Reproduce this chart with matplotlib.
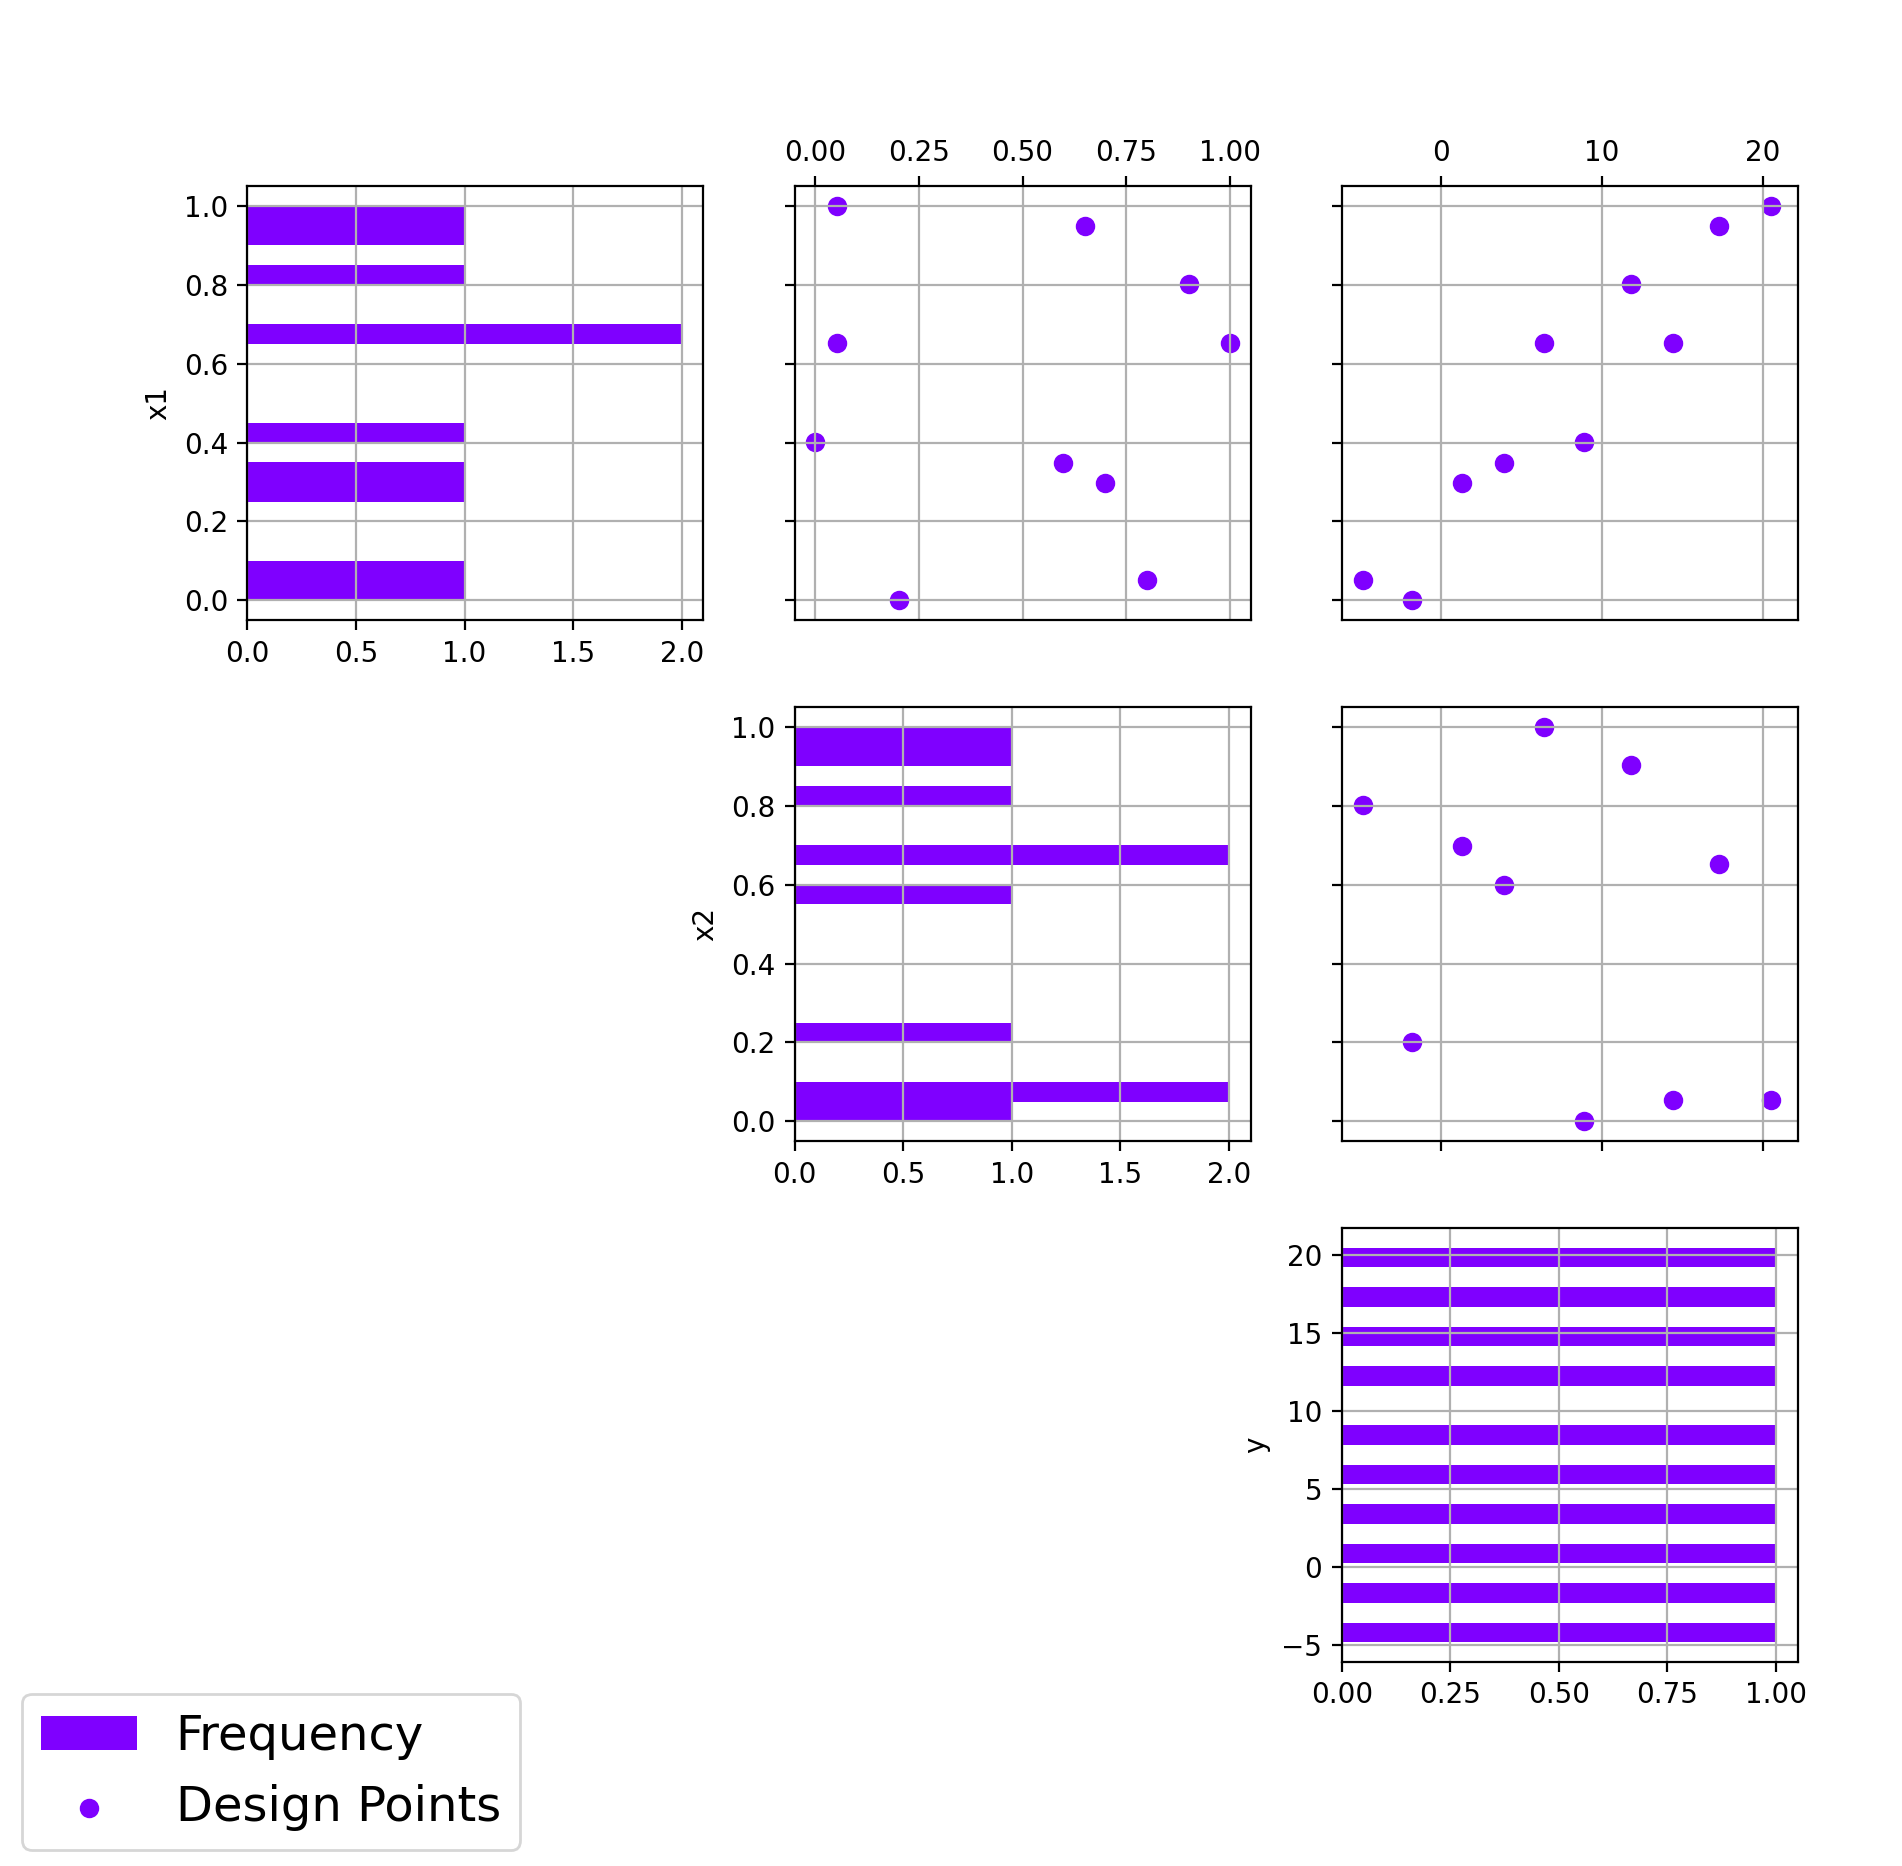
import matplotlib
matplotlib.use('Agg')
import matplotlib.pyplot as plt

# ---- data ----
var_names = ['x1', 'x2', 'y']
x1 = [1.000, 0.948, 0.801, 0.652, 0.652, 0.402, 0.348, 0.298, 0.051, 0.000]
x2 = [0.053, 0.651, 0.902, 1.000, 0.053, 0.000, 0.598, 0.699, 0.801, 0.202]
y = [20.50, 17.28, 11.81, 6.36, 14.43, 8.89, 3.92, 1.31, -4.85, -1.80]
n_bins = 20
legend_labels = ['Frequency', 'Design Points']
y_scatter_xlim = (-6.20, 22.18)

color = '#7f00ff'
data = [x1, x2, y]
n = len(data)

fig, axes = plt.subplots(n, n, figsize=(9.51, 9.33), dpi=200)
fig.subplots_adjust(left=0.1301, right=0.9452, bottom=0.1093, top=0.9003,
                    wspace=0.2, hspace=0.2)

hist_handle = None
scat_handle = None
for i in range(n):
    for j in range(n):
        ax = axes[i, j]
        if j < i:
            ax.axis('off')
            continue
        ax.grid(True)
        if i == j:
            _, _, patches = ax.hist(data[i], bins=n_bins, orientation='horizontal',
                                    color=color)
            if hist_handle is None:
                hist_handle = patches[0]
            ax.set_ylabel(var_names[i])
        else:
            sc = ax.scatter(data[j], data[i], color=color)
            if scat_handle is None:
                scat_handle = sc
            if j == 2:
                ax.set_xlim(*y_scatter_xlim)
            ax.tick_params(labelleft=False)
            if i == 0:
                ax.xaxis.set_ticks_position('top')
                ax.xaxis.set_label_position('top')
            else:
                ax.tick_params(labelbottom=False)

fig.legend([hist_handle, scat_handle], legend_labels, loc='lower left',
           bbox_to_anchor=(0.0116, 0.0086), borderaxespad=0, fontsize='xx-large')

fig.savefig('out.png', dpi=200)
